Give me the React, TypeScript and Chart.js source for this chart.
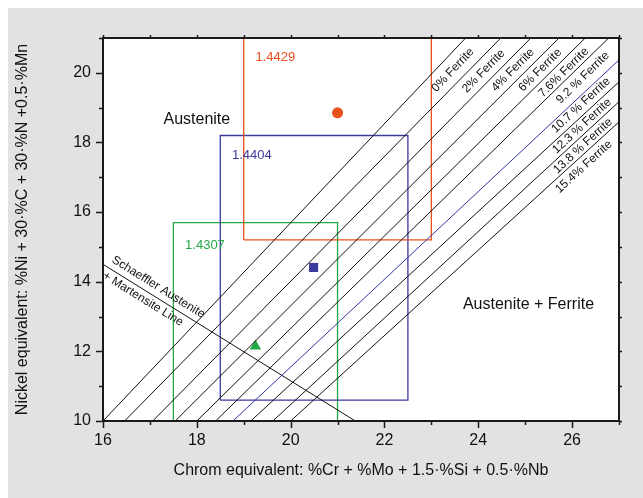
import React, { useEffect, useRef } from 'react';
import { Chart, registerables } from 'chart.js';

Chart.register(...registerables);

// ---- axis ranges / ticks ----
const xMin = 16;
const xMax = 27;
const yMin = 10;
const yMax = 21;
const xTickLabels = [16, 18, 20, 22, 24, 26];
const yTickLabels = [10, 12, 14, 16, 18, 20];

// ---- iso-ferrite lines ----
const ferriteLabels = ['0% Ferrite', '2% Ferrite', '4% Ferrite', '6% Ferrite', '7.6% Ferrite', '9.2 % Ferrite', '10.7 % Ferrite', '12.3 % Ferrite', '13.8 % Ferrite', '15.4% Ferrite'];
const ferriteStartX = [16.0, 16.46, 17.06, 17.54, 18.0, 18.4, 18.77, 19.15, 19.62, 20.0];
const ferriteStartY = [10, 10, 10, 10, 10, 10, 10, 10, 10, 10];
const ferriteEndX = [23.73, 24.48, 25.12, 25.72, 26.28, 26.78, 27, 27, 27, 27];
const ferriteEndY = [21, 21, 21, 21, 21, 21, 20.37, 19.74, 19.17, 18.59];
const ferriteLabelX = [23.46, 24.115, 24.74, 25.32, 25.82, 26.23, 26.19, 26.21, 26.23, 26.25];
const ferriteLabelY = [20.08, 20.05, 20.08, 20.08, 20.01, 19.86, 19.07, 18.47, 17.9, 17.3];
const highlightedFerrite = '10.7 % Ferrite';

// ---- Schaeffler austenite + martensite line ----
const schaefflerX = [16, 21.38];
const schaefflerY = [14.5, 10];
const schaefflerLabels = ['Schaeffler Austenite', '+ Martensite Line'];
const schaefflerLabelX = [17.18, 16.85];
const schaefflerLabelY = [13.84, 13.5];

// ---- steels ----
const steelNames = ['1.4429', '1.4404', '1.4307'];
const steelCrEq = [21.0, 20.49, 19.25];
const steelNiEq = [18.85, 14.41, 12.15];
const boxCrMin = [19.0, 18.5, 17.5];
const boxCrMax = [23.0, 22.5, 21.0];
const boxNiMin = [15.2, 10.6, 10.0];
const boxNiMax = [21.0, 18.2, 15.7];
const steelLabelX = [19.25, 18.75, 17.75];
const steelLabelY = [20.44, 17.63, 15.05];

// ---- region labels ----
const regionNames = ['Austenite', 'Austenite + Ferrite'];
const regionX = [18.0, 25.07];
const regionY = [18.67, 13.35];

const steelColors = ['#e8501c', '#3a3a9c', '#22a846'];
const steelMarkers = ['circle', 'rect', 'triangle'];
const steelMarkerSizes = [5.5, 6.4, 6.6];
const FONT = "'Liberation Sans', Arial, Helvetica, sans-serif";

export default function App() {
  const ref = useRef<HTMLCanvasElement | null>(null);

  useEffect(() => {
    const canvas = ref.current;
    if (!canvas) return;

    const datasets: any[] = [];
    ferriteLabels.forEach((lab, i) => {
      datasets.push({
        label: lab,
        data: [
          { x: ferriteStartX[i], y: ferriteStartY[i] },
          { x: ferriteEndX[i], y: ferriteEndY[i] },
        ],
        showLine: true,
        borderColor: lab === highlightedFerrite ? '#3434a6' : '#111111',
        borderWidth: 1,
        pointRadius: 0,
      });
    });
    datasets.push({
      label: 'Schaeffler',
      data: schaefflerX.map((x, i) => ({ x, y: schaefflerY[i] })),
      showLine: true,
      borderColor: '#111111',
      borderWidth: 1,
      pointRadius: 0,
    });
    steelNames.forEach((name, i) => {
      datasets.push({
        label: name + ' range',
        data: [
          { x: boxCrMin[i], y: boxNiMin[i] },
          { x: boxCrMin[i], y: boxNiMax[i] },
          { x: boxCrMax[i], y: boxNiMax[i] },
          { x: boxCrMax[i], y: boxNiMin[i] },
          { x: boxCrMin[i], y: boxNiMin[i] },
        ],
        showLine: true,
        borderColor: steelColors[i],
        borderWidth: 1.3,
        pointRadius: 0,
      });
    });
    steelNames.forEach((name, i) => {
      datasets.push({
        label: name,
        data: [{ x: steelCrEq[i], y: steelNiEq[i] }],
        showLine: false,
        pointStyle: steelMarkers[i],
        pointRadius: steelMarkerSizes[i],
        backgroundColor: steelColors[i],
        borderColor: steelColors[i],
        borderWidth: 0,
      });
    });

    const decor = {
      id: 'decor',
      beforeDraw(chart: any) {
        const { ctx, chartArea: a, width, height } = chart;
        ctx.save();
        ctx.fillStyle = '#e2e2e2';
        ctx.fillRect(0, 0, width, height);
        ctx.fillStyle = '#ffffff';
        ctx.fillRect(a.left, a.top, a.right - a.left, a.bottom - a.top);
        ctx.restore();
      },
      afterDatasetsDraw(chart: any) {
        const { ctx, chartArea: a } = chart;
        const xs = chart.scales.x;
        const ys = chart.scales.y;
        ctx.save();
        // ferrite labels
        ctx.fillStyle = '#111111';
        ctx.font = `12px ${FONT}`;
        ctx.textAlign = 'center';
        ctx.textBaseline = 'middle';
        ferriteLabels.forEach((lab, i) => {
          const x0 = xs.getPixelForValue(ferriteStartX[i]);
          const y0 = ys.getPixelForValue(ferriteStartY[i]);
          const x1 = xs.getPixelForValue(ferriteEndX[i]);
          const y1 = ys.getPixelForValue(ferriteEndY[i]);
          const ang = Math.atan2(y1 - y0, x1 - x0);
          ctx.save();
          ctx.translate(xs.getPixelForValue(ferriteLabelX[i]), ys.getPixelForValue(ferriteLabelY[i]));
          ctx.rotate(ang);
          ctx.fillText(lab, 0, 0);
          ctx.restore();
        });
        // schaeffler labels
        {
          const x0 = xs.getPixelForValue(schaefflerX[0]);
          const y0 = ys.getPixelForValue(schaefflerY[0]);
          const x1 = xs.getPixelForValue(schaefflerX[1]);
          const y1 = ys.getPixelForValue(schaefflerY[1]);
          const ang = Math.atan2(y1 - y0, x1 - x0);
          schaefflerLabels.forEach((lab, i) => {
            ctx.save();
            ctx.translate(xs.getPixelForValue(schaefflerLabelX[i]), ys.getPixelForValue(schaefflerLabelY[i]));
            ctx.rotate(ang);
            ctx.fillText(lab, 0, 0);
            ctx.restore();
          });
        }
        // steel labels
        ctx.font = `13px ${FONT}`;
        ctx.textAlign = 'left';
        steelNames.forEach((name, i) => {
          ctx.fillStyle = steelColors[i];
          ctx.fillText(name, xs.getPixelForValue(steelLabelX[i]), ys.getPixelForValue(steelLabelY[i]));
        });
        // region labels
        ctx.font = `16px ${FONT}`;
        ctx.fillStyle = '#111111';
        ctx.textAlign = 'center';
        regionNames.forEach((name, i) => {
          ctx.fillText(name, xs.getPixelForValue(regionX[i]), ys.getPixelForValue(regionY[i]));
        });
        // frame
        ctx.strokeStyle = '#1a1a1a';
        ctx.lineWidth = 2;
        ctx.strokeRect(a.left, a.top, a.right - a.left, a.bottom - a.top);
        // tick marks
        ctx.lineWidth = 1.5;
        ctx.beginPath();
        for (let v = xMin; v <= xMax; v++) {
          const px = Math.round(xs.getPixelForValue(v)) + 0.5;
          const major = xTickLabels.includes(v);
          ctx.moveTo(px, a.bottom);
          ctx.lineTo(px, a.bottom + (major ? 7 : 4));
          ctx.moveTo(px, a.top);
          ctx.lineTo(px, a.top - 3);
        }
        for (let v = yMin; v <= yMax; v++) {
          const py = Math.round(ys.getPixelForValue(v)) + 0.5;
          const major = yTickLabels.includes(v);
          ctx.moveTo(a.left, py);
          ctx.lineTo(a.left - (major ? 7 : 4), py);
          ctx.moveTo(a.right, py);
          ctx.lineTo(a.right + 3, py);
        }
        ctx.stroke();
        ctx.restore();
      },
    };

    const chart = new Chart(canvas, {
      type: 'scatter',
      data: { datasets },
      options: {
        animation: false,
        responsive: false,
        devicePixelRatio: 1,
        layout: { padding: { top: 30, right: 24, left: 0, bottom: 0 } },
        plugins: { legend: { display: false }, tooltip: { enabled: false } },
        scales: {
          x: {
            type: 'linear',
            min: xMin,
            max: xMax,
            afterFit: (s: any) => { s.height = 77; },
            afterBuildTicks: (s: any) => { s.ticks = xTickLabels.map((v) => ({ value: v })); },
            grid: { display: false, drawTicks: false },
            border: { display: false },
            ticks: { padding: 10, color: '#111111', font: { family: FONT, size: 16 } },
            title: {
              display: true,
              text: 'Chrom equivalent: %Cr + %Mo + 1.5·%Si + 0.5·%Nb',
              color: '#111111',
              font: { family: FONT, size: 16 },
              padding: { top: 4, bottom: 18 },
            },
          },
          y: {
            type: 'linear',
            min: yMin,
            max: yMax,
            afterFit: (s: any) => { s.width = 95; },
            afterBuildTicks: (s: any) => { s.ticks = yTickLabels.map((v) => ({ value: v })); },
            grid: { display: false, drawTicks: false },
            border: { display: false },
            ticks: { padding: 12, color: '#111111', font: { family: FONT, size: 16 } },
            title: {
              display: true,
              text: 'Nickel equivalent: %Ni + 30·%C + 30·%N +0.5·%Mn',
              color: '#111111',
              font: { family: FONT, size: 16 },
              padding: { top: 5, bottom: 4 },
            },
          },
        },
      },
      plugins: [decor],
    } as any);

    return () => chart.destroy();
  }, []);

  return (
    <div style={{ position: 'fixed', left: 8, top: 8, width: 635, height: 490 }}>
      <canvas ref={ref} width={635} height={490} style={{ display: 'block', width: 635, height: 490 }} />
    </div>
  );
}
